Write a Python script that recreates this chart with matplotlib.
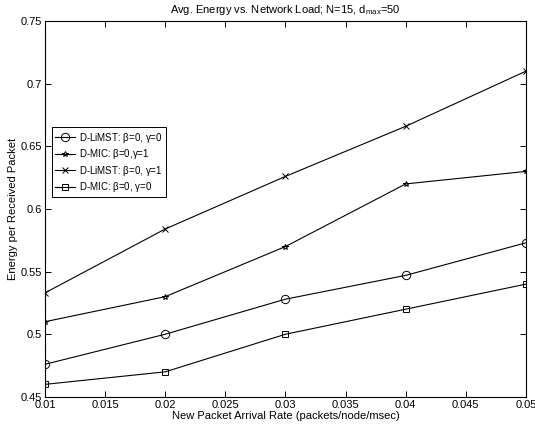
import matplotlib
matplotlib.use('Agg')
import matplotlib.pyplot as plt

rate = [0.01, 0.02, 0.03, 0.04, 0.05]
limst_g0 = [0.476, 0.500, 0.528, 0.547, 0.573]
mic_g1 = [0.510, 0.530, 0.570, 0.620, 0.630]
limst_g1 = [0.533, 0.584, 0.626, 0.666, 0.710]
mic_g0 = [0.460, 0.470, 0.500, 0.520, 0.540]

plt.rcParams['font.family'] = ['Liberation Sans', 'DejaVu Sans']
plt.rcParams['mathtext.fontset'] = 'custom'
plt.rcParams['mathtext.rm'] = 'Liberation Sans'
plt.rcParams['mathtext.it'] = 'Liberation Sans'

fig = plt.figure(figsize=(5.35, 4.3), dpi=100)
ax = fig.add_axes([0.084, 0.077, 0.899, 0.874])

kw = dict(color='black', lw=0.8, mfc='none', mec='black', mew=0.7)
ax.plot(rate, limst_g0, marker='o', ms=6, label=r'D-LiMST: $\beta$=0, $\gamma$=0', **kw)
ax.plot(rate, mic_g1, marker='*', ms=4, label=r'D-MIC: $\beta$=0,$\gamma$=1', **kw)
ax.plot(rate, limst_g1, marker='x', ms=4, label=r'D-LiMST: $\beta$=0, $\gamma$=1', **kw)
ax.plot(rate, mic_g0, marker='s', ms=5, label=r'D-MIC: $\beta$=0, $\gamma$=0', **kw)

ax.set_xlim(0.01, 0.05)
ax.set_ylim(0.45, 0.75)
ax.set_xticks([0.01, 0.015, 0.02, 0.025, 0.03, 0.035, 0.04, 0.045, 0.05])
ax.set_xticklabels(['0.01', '0.015', '0.02', '0.025', '0.03', '0.035', '0.04', '0.045', '0.05'])
ax.set_yticks([0.45, 0.5, 0.55, 0.6, 0.65, 0.7, 0.75])
ax.set_yticklabels(['0.45', '0.5', '0.55', '0.6', '0.65', '0.7', '0.75'])
ax.tick_params(direction='in', labelsize=8, length=4, width=0.7, pad=2)
ax.tick_params(top=True, right=True)
for s in ax.spines.values():
    s.set_linewidth(0.8)

ax.set_xlabel('New Packet Arrival Rate (packets/node/msec)', fontsize=8, labelpad=1)
ax.set_ylabel('Energy per Received Packet', fontsize=8, labelpad=2)
ax.set_title(r'Avg. Energy vs. Network Load; N=15, d$_{\rm max}$=50', fontsize=8, pad=6)

leg = ax.legend(loc='upper left', bbox_to_anchor=(0.004, 0.73), fontsize=7,
                fancybox=False, edgecolor='black', framealpha=1,
                handlelength=2.0, handletextpad=0.5, borderpad=0.35,
                labelspacing=0.25)
leg.get_frame().set_linewidth(0.7)

fig.savefig('out.png', dpi=100)
